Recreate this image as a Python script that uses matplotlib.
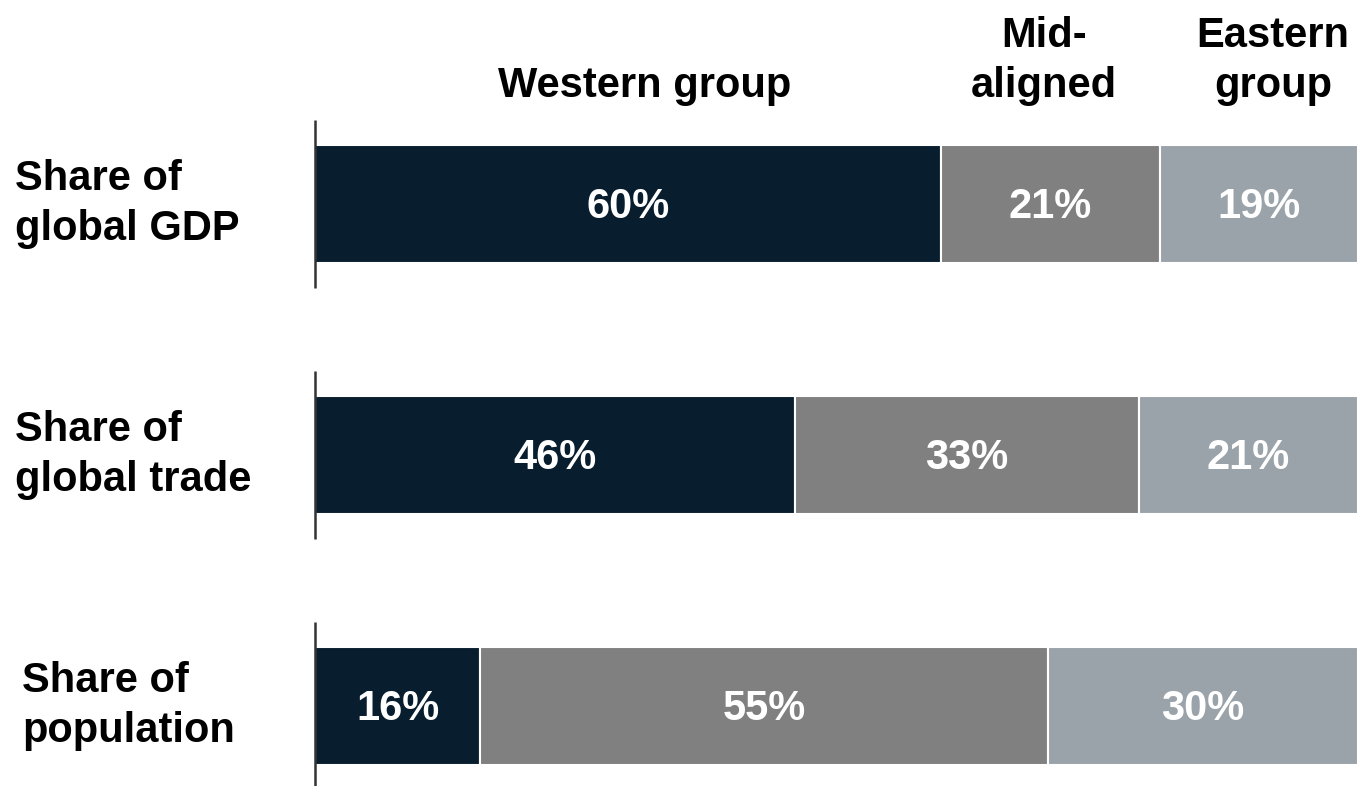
import matplotlib
matplotlib.use("Agg")
import matplotlib.pyplot as plt
import numpy as np

categories = ["Share of\nglobal GDP", "Share of\nglobal trade", "Share of\npopulation"]
groups = ["Western group", "Mid-\naligned", "Eastern\ngroup"]
western = [60, 46, 16]
mid_aligned = [21, 33, 55]
eastern = [19, 21, 30]
colors = ["#081d2d", "#808080", "#9ba3aa"]

plt.rcParams["font.family"] = ["Liberation Sans", "DejaVu Sans"]
plt.rcParams["font.weight"] = "bold"

W, H = 1358, 786
fig = plt.figure(figsize=(W / 100, H / 100), dpi=100)
ax = fig.add_axes([315 / W, 0, 1 - 315 / W, 1])

series = np.array([western, mid_aligned, eastern], dtype=float)
totals = series.sum(axis=0)
shares = series / totals * 100
y = np.arange(len(categories))
left = np.zeros(len(categories))
for s_raw, s, c in zip(series, shares, colors):
    ax.barh(y, s, left=left, height=0.47, color=c, edgecolor="white", linewidth=1.5)
    for yi, l, w, v in zip(y, left, s, s_raw):
        ax.text(l + w / 2, yi + 0.01, f"{int(v)}%", ha="center", va="center",
                color="white", fontsize=30, fontweight="bold")
    left = left + s

ax.set_xlim(0, 100)
ax.set_ylim((H - 204) / 251, -204 / 251)
for yi in y:
    ax.plot([0, 0], [yi - 0.335, yi + 0.335], color="#333333", lw=1.8,
            clip_on=False, solid_capstyle="butt")
ax.axis("off")

# group headers
header_x = [645 / W, 1044 / W, 1273 / W]
for g, hx in zip(groups, header_x):
    fig.text(hx, 1 - 97 / H, g, ha="center", va="baseline", fontsize=30,
             fontweight="bold", color="black", linespacing=1.33)

# row labels
label_x = [15 / W, 15 / W, 22 / W]
for cat, yi, lx in zip(categories, y, label_x):
    ax.annotate(cat, xy=(lx, yi), xycoords=("figure fraction", "data"),
                ha="left", va="center", fontsize=30, fontweight="bold",
                color="black", linespacing=1.33)

fig.savefig("out.png", dpi=100)
